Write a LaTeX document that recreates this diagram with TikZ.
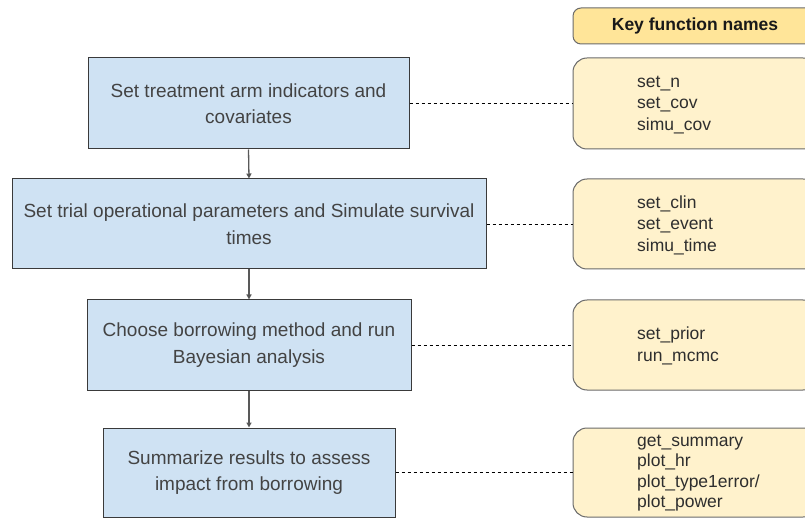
\documentclass[tikz,border=0pt]{standalone}
\usepackage{fontspec}
\setmainfont{Liberation Sans}
\usetikzlibrary{arrows.meta}
\definecolor{bluefill}{HTML}{CFE2F3}
\definecolor{yfill}{HTML}{FFF2CC}
\definecolor{hfill}{HTML}{FFE599}
\definecolor{edgec}{HTML}{3A3A3A}
\definecolor{yedge}{HTML}{6B6B6B}
\definecolor{txt}{HTML}{434343}
\definecolor{ftxt}{HTML}{2E2E2E}
\begin{document}
\begin{tikzpicture}[x=1pt,y=-1pt,
  stepbox/.style={draw=edgec, line width=1pt, fill=bluefill, align=center, text=txt,
    font=\fontsize{19}{26.5}\selectfont, inner sep=0pt},
  keybox/.style={draw=yedge, line width=1pt, fill=yfill, rounded corners=14pt, inner sep=0pt},
  headbox/.style={draw=yedge, line width=1pt, fill=hfill, rounded corners=8pt, inner sep=0pt},
  fnames/.style={anchor=west, align=left, text=ftxt, inner sep=0pt,
    font=\fontsize{17.5}{21.5}\selectfont},
  flow/.style={draw=black!65, line width=1.3pt, -{Triangle[length=5pt,width=5pt,fill=black]}},
  link/.style={draw=black, line width=0.8pt, dash pattern=on 3.5pt off 2.5pt}
]
\useasboundingbox (0,0) rectangle (805,518);
\clip (0,0) rectangle (805,518);
\fill[white] (0,0) rectangle (805,518);

% left flow boxes
\node[stepbox, minimum width=321pt, minimum height=91pt] (s1) at (248.5,103.5)
  {Set treatment arm indicators and\\covariates};
\node[stepbox, minimum width=474pt, minimum height=90pt] (s2) at (249,224)
  {Set trial operational parameters and Simulate survival\\times};
\node[stepbox, minimum width=324pt, minimum height=90pt] (s3) at (249,345)
  {Choose borrowing method and run\\Bayesian analysis};
\node[stepbox, minimum width=292pt, minimum height=89pt] (s4) at (249,472.5)
  {Summarize results to assess\\impact from borrowing};

% right key boxes
\node[headbox, minimum width=244pt, minimum height=36pt,
  font=\bfseries\fontsize{17.5}{20}\selectfont, text=black!90] (h) at (695,26) {Key function names};
\node[keybox, minimum width=244pt, minimum height=91pt] (k1) at (695,103.5) {};
\node[keybox, minimum width=244pt, minimum height=90pt] (k2) at (695,224) {};
\node[keybox, minimum width=244pt, minimum height=90pt] (k3) at (695,345) {};
\node[keybox, minimum width=244pt, minimum height=89pt] (k4) at (695,472.5) {};

\node[fnames] (t1) at (637,105) {set\_n\\set\_cov\\simu\_cov};
\node[fnames] (t2) at (637,225) {set\_clin\\set\_event\\simu\_time};
\node[fnames] (t3) at (637,346) {set\_prior\\run\_mcmc};
\node[fnames, font=\fontsize{17.5}{20.5}\selectfont] (t4) at (637,473)
  {get\_summary\\plot\_hr\\plot\_type1error/\\plot\_power};

% flow arrows
\draw[flow] (s1.south) -- (s2.north);
\draw[flow] (s2.south) -- (s3.north);
\draw[flow] (s3.south) -- (s4.north);

% dashed links
\draw[link] (s1.east) -- (k1.west);
\draw[link] (s2.east) -- (k2.west);
\draw[link] (s3.east) -- (k3.west);
\draw[link] (s4.east) -- (k4.west);
\end{tikzpicture}
\end{document}
